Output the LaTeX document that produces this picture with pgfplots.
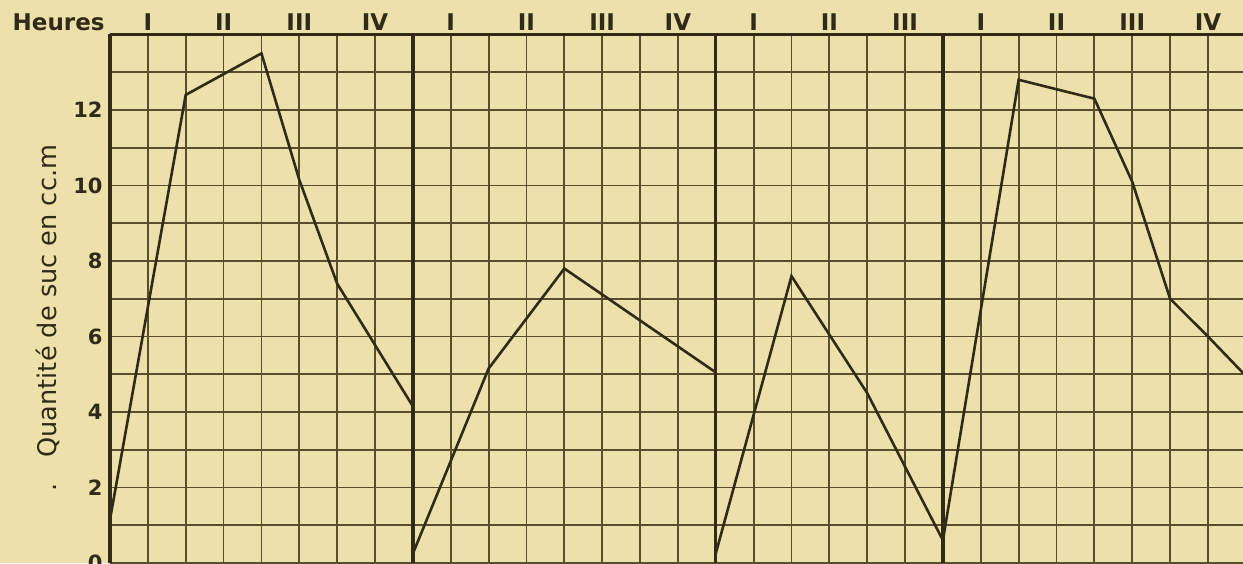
\documentclass[border=0pt]{standalone}
\usepackage{pgfplots}
\pgfplotsset{compat=1.18}
\usepackage{fontspec}
\setmainfont{DejaVu Sans}
\definecolor{paper}{RGB}{236,225,170}
\definecolor{gridc}{RGB}{88,77,45}
\definecolor{ink}{RGB}{50,42,24}
\begin{document}
\begin{tikzpicture}
\useasboundingbox (-55pt,0pt) rectangle (566.5pt,281.5pt);
\fill[paper] (-55pt,0pt) rectangle (566.5pt,281.5pt);
\begin{scope}
\clip (-55pt,0pt) rectangle (566.5pt,281.5pt);
\begin{axis}[
  anchor=origin, at={(0pt,0pt)},
  x=18.93pt, y=18.875pt,
  xmin=0, xmax=29.93, ymin=0, ymax=14,
  axis line style={draw=none},
  xtick={1,3,5,7,9,11,13,15,17,19,21,23,25,27,29},
  xticklabels={I,II,III,IV,I,II,III,IV,I,II,III,I,II,III,IV},
  xticklabel pos=right,
  ytick={0,2,4,6,8,10,12},
  yticklabels={0,2,4,6,8,10,12},
  /pgf/number format/assume math mode=true,
  minor xtick={0,...,29},
  minor ytick={0,...,14},
  grid=both,
  major grid style={gridc, line width=0.9pt},
  minor grid style={gridc, line width=0.9pt},
  major tick length=0pt, minor tick length=0pt,
  extra x ticks={0,8,16,22},
  extra x tick labels={},
  extra x tick style={grid=major, major grid style={ink, line width=1.7pt}},
  extra y ticks={14},
  extra y tick labels={},
  extra y tick style={grid=major, major grid style={ink, line width=1.4pt}},
  xticklabel style={font=\fontsize{11.5}{12}\selectfont\bfseries, text=ink, anchor=base, yshift=2pt},
  yticklabel style={font=\fontsize{10.5}{12}\selectfont\bfseries, text=ink, anchor=east, inner sep=3.5pt},
]
\addplot[ink, line width=1.3pt] coordinates {(0,1.15) (2,12.4) (4,13.5) (5,10.15) (6,7.4) (8,4.15)};
\addplot[ink, line width=1.3pt] coordinates {(8,0.25) (10,5.15) (12,7.8) (16,5.05)};
\addplot[ink, line width=1.3pt] coordinates {(16,0.25) (18,7.6) (20,4.5) (22,0.6)};
\addplot[ink, line width=1.3pt] coordinates {(22,0.6) (24,12.8) (26,12.3) (27,10.1) (28,7.0) (29,6.0) (29.93,5.03)};
\end{axis}
\end{scope}
\node[anchor=base east, font=\fontsize{11.5}{12}\selectfont\bfseries, text=ink, inner sep=0pt] at (-2.5pt,266.25pt) {Heures};
\node[rotate=90, anchor=base west, font=\fontsize{12.8}{14}\selectfont, text=ink, inner sep=0pt] at (-26.5pt,35.5pt) {.\hspace{13pt}Quantité de suc en cc.m};
\end{tikzpicture}
\end{document}
